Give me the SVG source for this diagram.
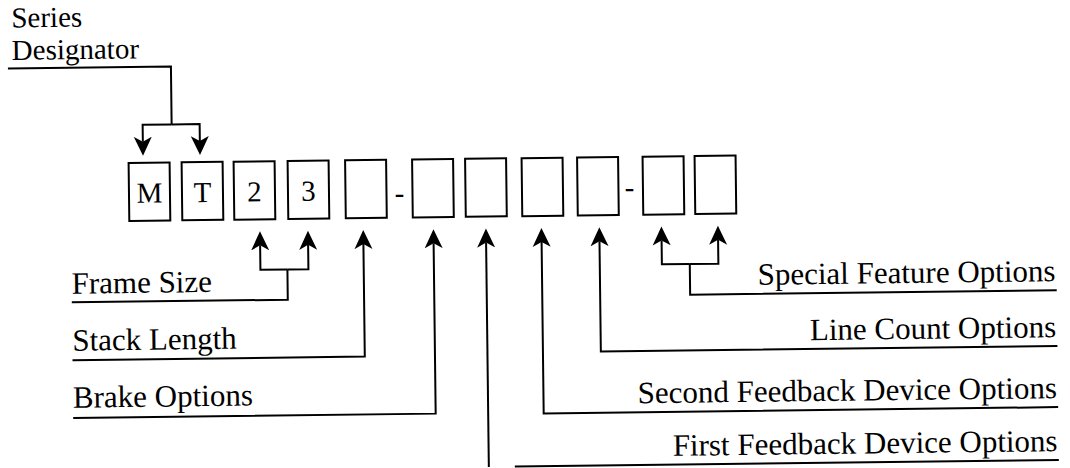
<svg xmlns="http://www.w3.org/2000/svg" width="1070" height="468" viewBox="0 0 1070 468">
  <style>
    .lbl { font-family: "Liberation Serif", "Times New Roman", serif; font-size: 31px; fill: #000; }
    .top { font-size: 29px; }
    .chr { font-family: "Liberation Serif", "Times New Roman", serif; font-size: 29px; fill: #000; text-anchor: middle; }
    .end { text-anchor: end; }
    .box { fill: #fff; stroke: #000; stroke-width: 2; }
    .wire { fill: none; stroke: #000; stroke-width: 2; }
    .arr { fill: none; stroke: #000; stroke-width: 2; marker-end: url(#head); }
  </style>
  <defs>
    <marker id="head" viewBox="0 -10 20 20" markerUnits="userSpaceOnUse" markerWidth="20" markerHeight="20" refX="5" refY="0" orient="auto">
      <path d="M19,0 L0,-9 L5,0 L0,9 Z" fill="#000"/>
    </marker>
  </defs>
  <rect width="1070" height="468" fill="#fff"/>

  <!-- whole sheet sits slightly askew -->
  <g transform="rotate(-0.7 535 234)">

    <!-- code character boxes -->
    <g id="box-M"><rect class="box" x="129.5" y="158" width="41" height="58"/><text class="chr" x="150" y="198">M</text></g>
    <g id="box-T"><rect class="box" x="182.5" y="158" width="41" height="58"/><text class="chr" x="203" y="198">T</text></g>
    <g id="box-2"><rect class="box" x="234.5" y="158" width="41" height="58"/><text class="chr" x="255" y="198">2</text></g>
    <g id="box-3"><rect class="box" x="288.5" y="158" width="41" height="58"/><text class="chr" x="309" y="198">3</text></g>
    <g id="box-brake"><rect class="box" x="346" y="158" width="41" height="58"/></g>
    <g id="dash-1"><text class="chr" x="400" y="201">-</text></g>
    <g id="box-fb1"><rect class="box" x="413" y="158" width="41" height="58"/></g>
    <g id="box-fb1b"><rect class="box" x="466" y="158" width="41" height="58"/></g>
    <g id="box-fb2"><rect class="box" x="522.5" y="158" width="41" height="58"/></g>
    <g id="box-lines"><rect class="box" x="578" y="158" width="41" height="58"/></g>
    <g id="dash-2"><text class="chr" x="630" y="198">-</text></g>
    <g id="box-sf1"><rect class="box" x="643.5" y="158" width="41" height="58"/></g>
    <g id="box-sf2"><rect class="box" x="695.5" y="158" width="41" height="58"/></g>

    <!-- labels -->
    <g id="lbl-series"><text class="lbl top" x="14" y="21">Series</text><text class="lbl top" x="14" y="53.5">Designator</text></g>
    <g id="lbl-frame"><text class="lbl" x="71" y="288">Frame Size</text></g>
    <g id="lbl-stack"><text class="lbl" x="71" y="345">Stack Length</text></g>
    <g id="lbl-brake"><text class="lbl" x="71" y="402">Brake Options</text></g>
    <g id="lbl-special"><text class="lbl end" x="1055" y="287.5">Special Feature Options</text></g>
    <g id="lbl-linecount"><text class="lbl end" x="1055" y="343.5">Line Count Options</text></g>
    <g id="lbl-fb2"><text class="lbl end" x="1055" y="404.5">Second Feedback Device Options</text></g>
    <g id="lbl-fb1"><text class="lbl end" x="1055" y="457.5">First Feedback Device Options</text></g>

    <!-- leader lines -->
    <g id="connectors">
      <path class="wire" d="M10,62 H173 V120"/>
      <path class="arr" d="M173,120 H144 V137"/>
      <path class="arr" d="M173,120 H201 V137"/>

      <path class="wire" d="M71,296.7 H287 V266.4"/>
      <path class="arr" d="M287,266.4 H260 V242"/>
      <path class="arr" d="M287,266.4 H308 V242"/>

      <path class="arr" d="M71,354.5 H363.3 V242"/>
      <path class="arr" d="M71,412.4 H433.5 V242"/>

      <path class="arr" d="M486,466.4 V242"/>
      <path class="wire" d="M512,466.3 H1056"/>

      <path class="arr" d="M1056,413.5 H541.5 V242"/>
      <path class="arr" d="M1056,352.3 H599.4 V242"/>

      <path class="wire" d="M1056,296.6 H689.4 V265.9"/>
      <path class="arr" d="M689.4,265.9 H661.5 V242"/>
      <path class="arr" d="M689.4,265.9 H718 V242"/>
    </g>
  </g>
</svg>
